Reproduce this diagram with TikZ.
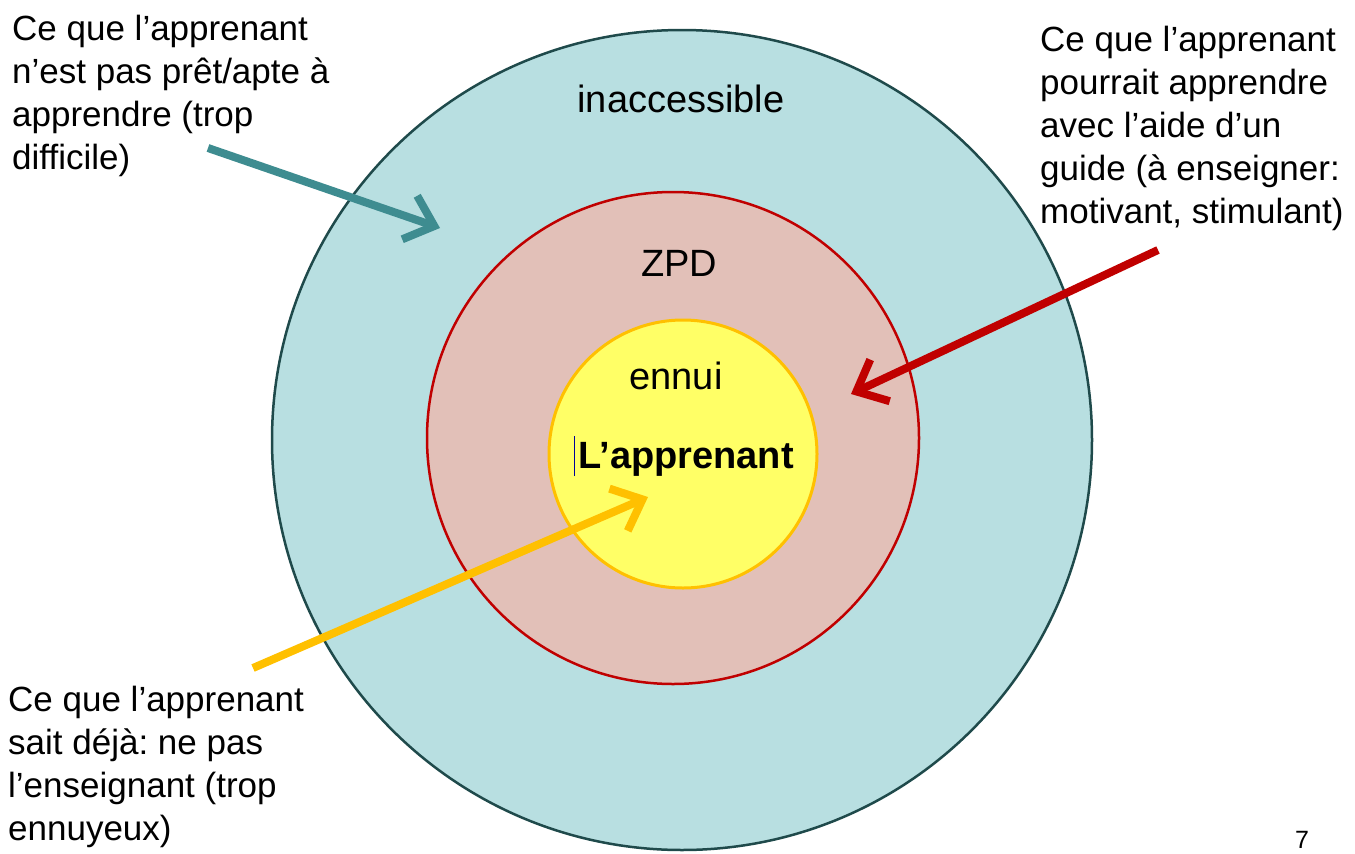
\documentclass[tikz,border=0pt]{standalone}
\usepackage{fontspec}
\setmainfont{Liberation Sans}
\usetikzlibrary{arrows.meta}
\frenchspacing
\definecolor{outerfill}{HTML}{B8DFE1}
\definecolor{outerline}{HTML}{1F4A4B}
\definecolor{midfill}{HTML}{E2C0B8}
\definecolor{midline}{HTML}{C00000}
\definecolor{innerfill}{HTML}{FFFF66}
\definecolor{innerline}{HTML}{FFC000}
\definecolor{tealarrow}{HTML}{3E8C90}
\begin{document}
\begin{tikzpicture}[x=1pt,y=-1pt,
  ring/.style={circle,inner sep=0pt,line width=2.5pt},
  lbl/.style={inner sep=0pt,font=\fontsize{38}{43}\selectfont},
  side/.style={inner sep=0pt,font=\fontsize{35}{43}\selectfont\frenchspacing,align=left,anchor=base west},
  pointer/.style={line width=8pt,-{Straight Barb[length=26pt,width=46pt,line width=8pt]}}]
\useasboundingbox (0,0) rectangle (1355,854);
\node[ring,draw=outerline,fill=outerfill,minimum size=820pt] (outer) at (682,440) {};
\node[ring,draw=midline,fill=midfill,minimum size=492pt] (mid) at (673,438) {};
\node[ring,draw=innerline,fill=innerfill,minimum size=268pt,line width=3pt] (inner) at (683,454) {};
\node[lbl,anchor=base] (tinacc) at (681,112) {inaccessible};
\node[lbl,anchor=base] (tzpd) at (679,276) {ZPD};
\node[lbl,anchor=base] (tennui) at (676,389) {ennui};
\node[lbl,anchor=base,font=\fontsize{38}{43}\selectfont\bfseries] (tappr) at (686,468) {L’apprenant};
\draw[draw=blue!60!black,line width=1.2pt] ([xshift=-4pt]tappr.base west) ++(0,8) -- ++(0,-40);
\node[side] (tl) at (12,169) {Ce que l’apprenant\\n’est pas prêt/apte à\\apprendre (trop\\difficile)};
\node[side] (tr) at (1040,223) {Ce que l’apprenant\\pourrait apprendre\\avec l’aide d’un\\guide (à enseigner:\\motivant, stimulant)};
\node[side] (bl) at (8,840) {Ce que l’apprenant\\sait déjà: ne pas\\l’enseignant (trop\\ennuyeux)};
\node[inner sep=0pt,anchor=base,font=\fontsize{25}{28}\selectfont] (pnum) at (1302,848) {7};
\coordinate (ta) at (208,148);
\coordinate (tb) at (440,228);
\coordinate (ra) at (1158,250);
\coordinate (rb) at (851,394);
\coordinate (ya) at (253,668);
\coordinate (yb) at (648,497);
\draw[pointer,tealarrow] (ta) -- (tb);
\draw[pointer,midline] (ra) -- (rb);
\draw[pointer,innerline] (ya) -- (yb);
\end{tikzpicture}
\end{document}
